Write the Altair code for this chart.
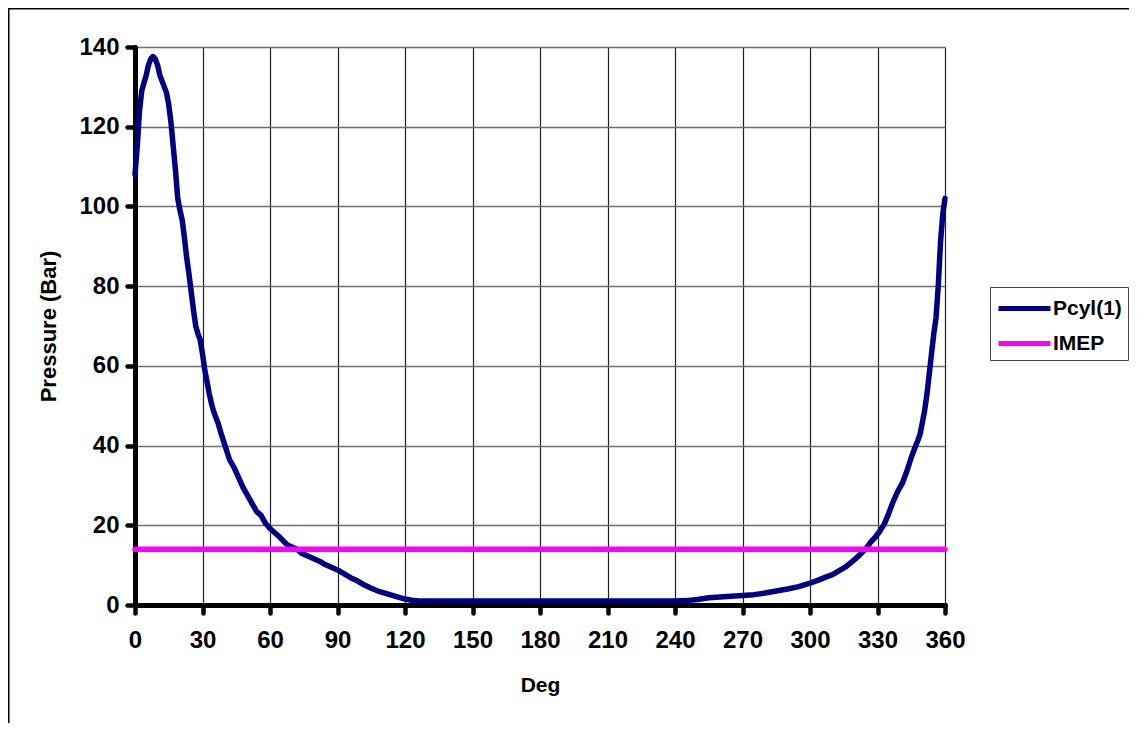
import altair as alt
import pandas as pd

# Crank angle (deg) and cylinder pressure (bar)
deg = [0, 1, 2, 3, 4, 5, 6, 7, 8, 9, 10, 11, 12, 13, 14, 15, 16, 17, 18, 19,
       20, 21, 22, 23, 24, 25, 26, 27, 28, 29, 30, 31, 32, 33, 34, 35, 36, 37, 38,
       40, 42, 44, 46, 48, 50, 52, 54, 56, 58, 60, 62, 64, 66, 68, 70, 72, 74, 76,
       78, 80, 82, 84, 86, 88, 90, 93, 96, 99, 102, 105, 108, 111, 114, 117, 120,
       123, 126, 130, 140, 150, 160, 170, 180, 190, 200, 210, 220, 230, 240, 245,
       250, 255, 260, 265, 270, 275, 280, 285, 290, 295, 300, 304, 307, 310, 313,
       316, 319, 322, 325, 327, 329, 331, 333, 335, 337, 339, 341, 343, 345, 347,
       348, 349, 350, 351, 352, 353, 354, 355, 356, 357, 358, 359, 360]
pcyl = [108, 115, 124, 129, 131, 133, 135.5, 137, 137.6, 137, 135.5, 133, 131.5,
        130, 128.5, 125.5, 121, 115, 109, 102, 99, 96.5, 92, 87, 83, 78.5, 74,
        70, 68, 66.5, 63, 59, 56, 53, 50.5, 48.5, 47, 45.5, 43.5,
        40, 36.5, 34.5, 32, 29.5, 27.5, 25.5, 23.5, 22.5, 20.5, 19.2, 18.2, 17.2,
        16, 15, 14.5, 14, 13, 12.5, 12, 11.5, 11, 10.3, 9.8, 9.3, 8.8, 7.8, 6.8,
        6, 5, 4.2, 3.5, 3, 2.5, 2, 1.5, 1.2, 1, 1, 1, 1, 1, 1, 1, 1, 1, 1, 1, 1, 1,
        1.1, 1.4, 1.8, 2.0, 2.2, 2.4, 2.6, 3, 3.5, 4, 4.6, 5.5, 6.3, 7, 7.6, 8.6,
        9.6, 11, 12.5, 14.2, 15.8, 17, 18.5, 20.3, 23, 26, 28.5, 30.5, 33.5, 37,
        40, 41.4, 43, 46, 49, 53, 58, 63, 68, 72, 80, 91, 98, 102]

imep_deg = [0, 360]
imep_val = [14, 14]

series_names = ["Pcyl(1)", "IMEP"]
series_colors = ["#000080", "#FF00FF"]

x_ticks = list(range(0, 361, 30))
y_ticks = list(range(0, 141, 20))

rows = [{"Deg": d, "P": p, "Series": series_names[0], "o": i} for i, (d, p) in enumerate(zip(deg, pcyl))]
rows += [{"Deg": d, "P": p, "Series": series_names[1], "o": i} for i, (d, p) in enumerate(zip(imep_deg, imep_val))]
df = pd.DataFrame(rows)

FONT = "Liberation Sans"

lines = alt.Chart(df).mark_line(strokeWidth=5.5, strokeCap="round", strokeJoin="round").encode(
    x=alt.X("Deg:Q", scale=alt.Scale(domain=[0, 360], nice=False, zero=False),
            axis=alt.Axis(values=x_ticks, title="Deg", grid=True, gridColor="#222222",
                          gridWidth=1.2, labelFontSize=24, titleFontSize=21,
                          labelFlush=False, labelPadding=15, titlePadding=22)),
    y=alt.Y("P:Q", scale=alt.Scale(domain=[0, 140], nice=False),
            axis=alt.Axis(values=y_ticks, title="Pressure (Bar)", grid=True, gridColor="#6e6e6e",
                          gridWidth=1.5, labelFontSize=24, titleFontSize=22,
                          labelPadding=8, titlePadding=18)),
    color=alt.Color("Series:N", scale=alt.Scale(domain=series_names, range=series_colors),
                    legend=alt.Legend(title=None, orient="none", legendX=855, legendY=240,
                                      strokeColor="#444444", fillColor="white", padding=6,
                                      symbolType="M-1,0H3", symbolSize=676, symbolStrokeWidth=5,
                                      labelFontSize=21, labelFont=FONT, labelFontWeight="bold",
                                      labelColor="black", rowPadding=9, labelOffset=26)),
    order="o:Q",
    detail="Series:N",
)

frame = alt.Chart(pd.DataFrame({"a": [0]})).mark_rect(
    fill=None, stroke="black", strokeWidth=1.5
).encode(
    x=alt.value(-126.25), x2=alt.value(1100), y=alt.value(-38.25), y2=alt.value(760)
)

chart = alt.layer(frame, lines).properties(
    width=810, height=558,
    autosize=alt.AutoSizeParams(type="none"),
    padding={"left": 127, "top": 39, "right": 184, "bottom": 118},
).configure_view(stroke=None).configure_axis(
    labelFont=FONT, titleFont=FONT, labelFontWeight="bold", titleFontWeight="bold",
    labelColor="black", titleColor="black",
    domainColor="black", domainWidth=5, domainCap="round",
    tickColor="black", tickWidth=4.5, tickSize=8, tickCap="round",
)

chart.save("out.html", embed_options={"renderer": "svg", "actions": False})
